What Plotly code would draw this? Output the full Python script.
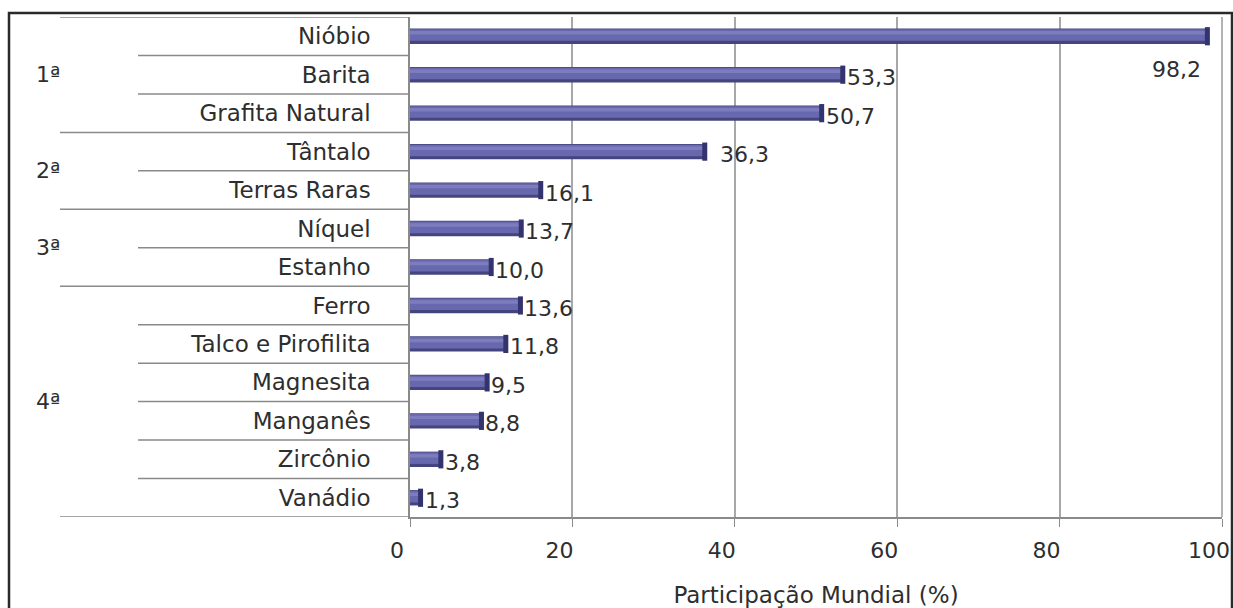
import plotly.graph_objects as go

minerals = ["Nióbio", "Barita", "Grafita Natural", "Tântalo", "Terras Raras",
            "Níquel", "Estanho", "Ferro", "Talco e Pirofilita", "Magnesita",
            "Manganês", "Zircônio", "Vanádio"]
shares = [98.2, 53.3, 50.7, 36.3, 16.1, 13.7, 10.0, 13.6, 11.8, 9.5, 8.8, 3.8, 1.3]
share_labels = ["98,2", "53,3", "50,7", "36,3", "16,1", "13,7", "10,0", "13,6",
                "11,8", "9,5", "8,8", "3,8", "1,3"]
groups = ["1ª", "2ª", "3ª", "4ª"]
group_sizes = [3, 2, 2, 6]
x_ticks = [0, 20, 40, 60, 80, 100]

FONT = "DejaVu Sans"
TXT = "#2e2e2e"
PL, PR = 410, 1222  # plot area pixel extent
PW = PR - PL

fig = go.Figure()
# cylinder-like bar: dark base, mid body, highlight
fig.add_trace(go.Bar(x=shares, y=minerals, orientation="h", width=0.40, offset=-0.20,
                     marker=dict(color="#44447f", line=dict(width=0)), hoverinfo="skip"))
fig.add_trace(go.Bar(x=shares, y=minerals, orientation="h", width=0.30, offset=-0.18,
                     marker=dict(color="#6868ae", line=dict(width=0)), hoverinfo="skip"))
fig.add_trace(go.Bar(x=shares, y=minerals, orientation="h", width=0.09, offset=-0.135,
                     marker=dict(color="#7c7cbe", line=dict(width=0)), hoverinfo="skip"))
# darker rounded end cap
fig.add_trace(go.Scatter(x=shares, y=minerals, mode="markers",
                         marker=dict(symbol="line-ns", size=13,
                                     line=dict(color="#33336e", width=5)),
                         hoverinfo="skip", cliponaxis=False))

annotations = []
for i, (v, lab) in enumerate(zip(shares, share_labels)):
    if v > 90:
        annotations.append(dict(x=v, y=minerals[i], text=lab, xref="x", yref="y",
                                showarrow=False, xanchor="right", yanchor="middle",
                                xshift=-4, yshift=-33,
                                font=dict(family=FONT, size=22, color=TXT)))
    else:
        gap = 13 if lab == "36,3" else 2
        annotations.append(dict(x=v, y=minerals[i], text=lab, xref="x", yref="y",
                                showarrow=False, xanchor="left", yanchor="middle",
                                xshift=gap, yshift=-3,
                                font=dict(family=FONT, size=22, color=TXT)))

shapes = []
L_OUT = (60 - PL) / PW
L_IN = (138 - PL) / PW
start = 0
boundaries = [-0.5]
for gname, n in zip(groups, group_sizes):
    mid = start + (n - 1) / 2
    annotations.append(dict(x=(48 - PL) / PW, y=mid, xref="paper", yref="y",
                            text=gname, showarrow=False, xanchor="center", yanchor="middle",
                            font=dict(family=FONT, size=22, color=TXT)))
    for k in range(1, n):
        shapes.append(dict(type="line", xref="paper", yref="y", x0=L_IN, x1=0,
                           y0=start + k - 0.5, y1=start + k - 0.5,
                           line=dict(color="#8a8a8a", width=1.5)))
    start += n
    boundaries.append(start - 0.5)
for b in boundaries:
    shapes.append(dict(type="line", xref="paper", yref="y", x0=L_OUT, x1=0,
                       y0=b, y1=b, line=dict(color="#8a8a8a", width=1.5)))

# outer frame
shapes.append(dict(type="rect", xref="paper", yref="paper",
                   x0=(9 - PL) / PW, x1=(1232 - PL) / PW,
                   y0=(517 - 640) / 500, y1=(517 - 13) / 500,
                   line=dict(color="#2a2a2a", width=2.5), layer="below"))
# back wall right edge
shapes.append(dict(type="line", xref="paper", yref="paper", x0=1, x1=1, y0=0, y1=1,
                   line=dict(color="#9a9a9a", width=1.5)))

fig.update_layout(
    width=1233, height=608,
    margin=dict(l=PL, r=1233 - PR, t=17, b=91, autoexpand=False),
    paper_bgcolor="white", plot_bgcolor="white",
    barmode="overlay", showlegend=False,
    annotations=annotations, shapes=shapes,
    xaxis=dict(range=[0, 100], tickvals=x_ticks, ticktext=[str(t) for t in x_ticks],
               showgrid=True, gridcolor="#a8a8a8", gridwidth=1.5,
               showline=True, linecolor="#8a8a8a", linewidth=1.5,
               ticks="outside", ticklen=8, tickcolor="#8a8a8a",
               ticklabelshift=-13, ticklabelstandoff=5, ticklabeloverflow="allow",
               automargin=False,
               tickfont=dict(family=FONT, size=22, color=TXT),
               zeroline=False,
               title=dict(text="Participação Mundial (%)", standoff=33,
                          font=dict(family=FONT, size=23, color=TXT))),
    yaxis=dict(type="category", categoryorder="array", categoryarray=minerals,
               range=[12.5, -0.5], showgrid=False, zeroline=False,
               showline=True, linecolor="#8a8a8a", linewidth=1.5,
               ticks="", ticklabelstandoff=33, automargin=False,
               tickfont=dict(family=FONT, size=23, color=TXT)),
)

fig.write_html("out.html")
